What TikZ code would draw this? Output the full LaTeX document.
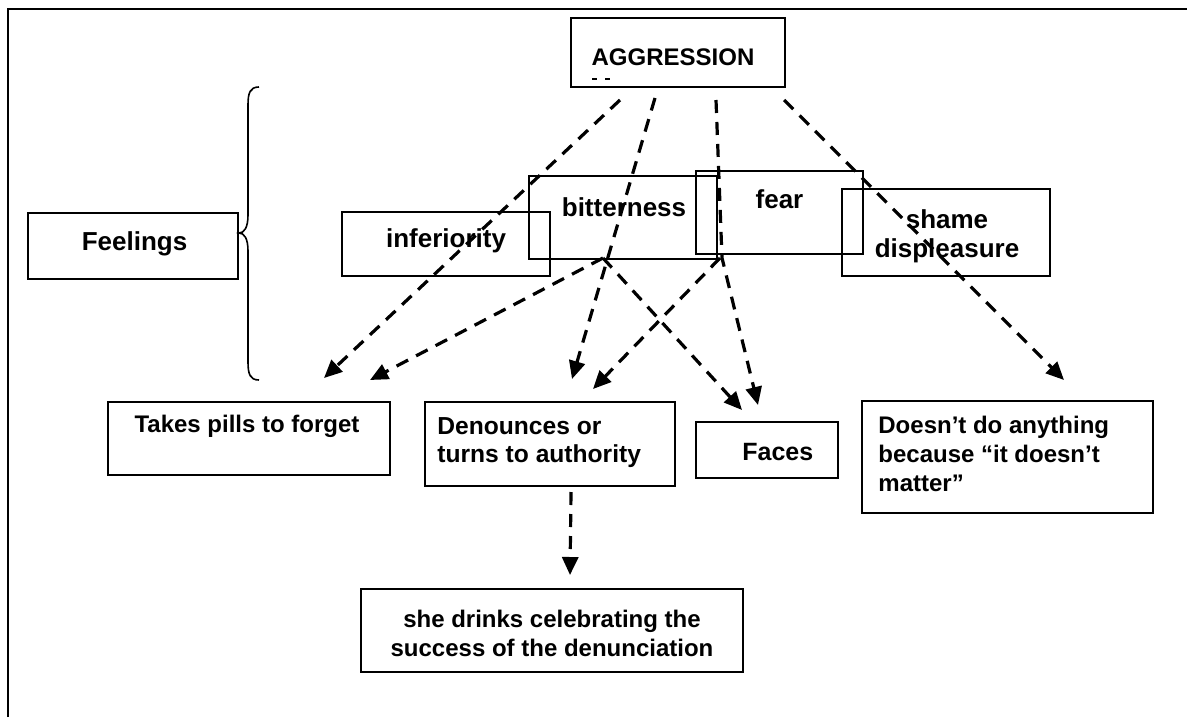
\documentclass[tikz,border=0pt]{standalone}
\usepackage{fontspec}
\setmainfont{Liberation Sans}
\usetikzlibrary{arrows.meta}
\begin{document}
\begin{tikzpicture}[x=0.5pt,y=-0.5pt,
  box/.style={draw, line width=0.9pt, inner sep=0pt},
  txt/.style={font=\bfseries\fontsize{12}{14.5}\selectfont, inner sep=0pt},
  bigtxt/.style={font=\bfseries\fontsize{13}{14.5}\selectfont, inner sep=0pt},
  darrow/.style={draw, line width=1.6pt, dash pattern=on 6.5pt off 4.5pt, -{Triangle[length=9pt,width=8pt]}}]
\useasboundingbox (0,0) rectangle (1187,717);
% frame
\draw[line width=1pt] (8,717) -- (8,9) -- (1187,9);
% boxes
\node[box, minimum width=107pt, minimum height=34.5pt] (agg) at (678,52.5) {};
\node[txt] (aggT) at (673,57) {AGGRESSION};
\draw[line width=0.8pt] (592,79) -- (597,79) (605,79) -- (610,79);
\node[box, minimum width=105pt, minimum height=33pt] (feel) at (133,246) {};
\node[bigtxt] (feelT) at (134.5,244) {Feelings};
\node[box, minimum width=104pt, minimum height=32pt] (inf) at (446,244) {};
\node[box, minimum width=94pt, minimum height=41.5pt] (bit) at (623,217.5) {};
\node[box, minimum width=83.5pt, minimum height=41.5pt] (fear) at (779.5,212.5) {};
\node[box, minimum width=104pt, minimum height=43.5pt] (shame) at (946,232.5) {};
\node[bigtxt] (infT) at (446,241) {inferiority};
\node[bigtxt, anchor=base] (bitT) at (624,216) {bitterness};
\node[bigtxt, anchor=base] (fearT) at (779.5,208) {fear};
\node[bigtxt, anchor=north, align=center] (shameT) at (947,209.5) {shame\\displeasure};
% lower boxes
\node[box, minimum width=141pt, minimum height=36.5pt] (take) at (249,438.5) {};
\node[txt, anchor=base] (takeT) at (247,432) {Takes pills to forget};
\node[box, minimum width=125pt, minimum height=42pt] (den) at (550,444) {};
\node[txt, anchor=north west, align=left, font=\bfseries\fontsize{12.3}{14}\selectfont] (denT) at (437,417) {Denounces or\\turns to authority};
\node[box, minimum width=71pt, minimum height=28pt] (faces) at (767,450) {};
\node[txt, anchor=base west, font=\bfseries\fontsize{12.5}{14}\selectfont] (facesT) at (742,460) {Faces};
\node[box, minimum width=145.5pt, minimum height=56pt] (doesnt) at (1007.5,457) {};
\node[txt, anchor=north west, align=left] (doesntT) at (878,415.5) {Doesn’t do anything\\because “it doesn’t\\matter”};
\node[box, minimum width=191pt, minimum height=41.5pt] (drinks) at (552,630.5) {};
\node[txt, anchor=north, align=center] (drinksT) at (552,610) {she drinks celebrating the\\success of the denunciation};
% brace
\draw[line width=0.8pt] (259,87) .. controls (250,87) and (248,93) .. (248,105) -- (248,215)
  .. controls (248,228) and (244,233) .. (239,233)
  .. controls (244,233) and (248,238) .. (248,251) -- (248,362)
  .. controls (248,374) and (250,380) .. (259,380);
% connector end points
\coordinate (a1) at (620,100);
\coordinate (a2) at (655,98);
\coordinate (a3) at (716,100);
\coordinate (a4) at (784,100);
\coordinate (b0) at (603,258);
\coordinate (f0) at (720,258);
\coordinate (f3) at (722,258);
\coordinate (d0) at (571,492);
\coordinate (t1) at (324,378);
\coordinate (t2) at (370,380);
\coordinate (n1) at (572,379);
\coordinate (n2) at (593,389);
\coordinate (c1) at (742,410);
\coordinate (c2) at (758,405);
\coordinate (e1) at (1064,380);
\coordinate (k1) at (570,575);
% connectors
\draw[darrow] (a1) -- (t1);
\draw[darrow] (a2) -- (n1);
\draw[darrow] (a3) -- (f3) -- (c2);
\draw[darrow] (a4) -- (e1);
\draw[darrow] (b0) -- (t2);
\draw[darrow] (b0) -- (c1);
\draw[darrow] (f0) -- (n2);
\draw[darrow] (d0) -- (k1);
\end{tikzpicture}
\end{document}
